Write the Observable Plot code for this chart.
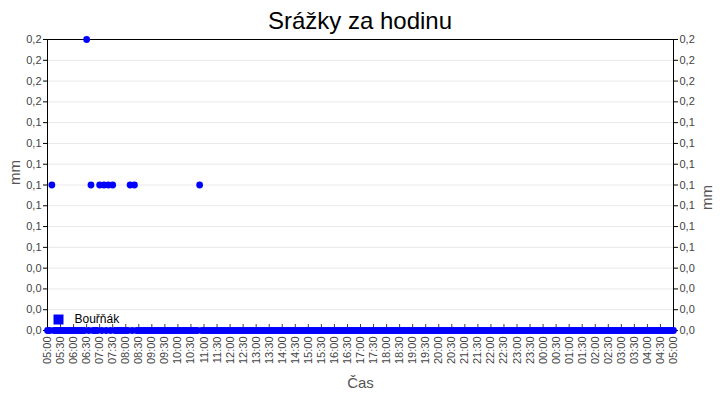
<!DOCTYPE html>
<html>
<head>
<meta charset="utf-8">
<script src="https://cdn.jsdelivr.net/npm/d3@7"></script>
<script src="https://cdn.jsdelivr.net/npm/@observablehq/plot@0.6"></script>
<style>
  body { margin: 0; background: #fff; font-family: "Liberation Sans", Arial, sans-serif; }
  #title { height: 31px; padding-top: 6px; line-height: 30px; font-size: 24px; text-align: center; color: #000; }
  svg { overflow: visible; }
</style>
</head>
<body>
<div id="title">Srážky za hodinu</div>
<div id="chart"></div>
<script>
// Series: "Bouřňák", one reading every 5 minutes, 05:00 → 05:00 next day (mm)
const seriesName = "Bouřňák";
const startTime = "05:00";
const stepMinutes = 5;
const values = [
  0, 0, 0.1, 0, 0, 0, 0, 0, 0, 0, 0, 0, 0, 0, 0, 0, 0, 0, 0.2, 0, 0.1, 0, 0, 0,       // 05:00–06:55
  0.1, 0, 0.1, 0, 0.1, 0, 0.1, 0, 0, 0, 0, 0, 0, 0, 0.1, 0, 0.1, 0, 0, 0, 0, 0, 0, 0, // 07:00–08:55
  0, 0, 0, 0, 0, 0, 0, 0, 0, 0, 0, 0, 0, 0, 0, 0, 0, 0, 0, 0, 0, 0, 0.1, 0,           // 09:00–10:55
  0, 0, 0, 0, 0, 0, 0, 0, 0, 0, 0, 0, 0, 0, 0, 0, 0, 0, 0, 0, 0, 0, 0, 0,             // 11:00–12:55
  0, 0, 0, 0, 0, 0, 0, 0, 0, 0, 0, 0, 0, 0, 0, 0, 0, 0, 0, 0, 0, 0, 0, 0,             // 13:00–14:55
  0, 0, 0, 0, 0, 0, 0, 0, 0, 0, 0, 0, 0, 0, 0, 0, 0, 0, 0, 0, 0, 0, 0, 0,             // 15:00–16:55
  0, 0, 0, 0, 0, 0, 0, 0, 0, 0, 0, 0, 0, 0, 0, 0, 0, 0, 0, 0, 0, 0, 0, 0,             // 17:00–18:55
  0, 0, 0, 0, 0, 0, 0, 0, 0, 0, 0, 0, 0, 0, 0, 0, 0, 0, 0, 0, 0, 0, 0, 0,             // 19:00–20:55
  0, 0, 0, 0, 0, 0, 0, 0, 0, 0, 0, 0, 0, 0, 0, 0, 0, 0, 0, 0, 0, 0, 0, 0,             // 21:00–22:55
  0, 0, 0, 0, 0, 0, 0, 0, 0, 0, 0, 0, 0, 0, 0, 0, 0, 0, 0, 0, 0, 0, 0, 0,             // 23:00–00:55
  0, 0, 0, 0, 0, 0, 0, 0, 0, 0, 0, 0, 0, 0, 0, 0, 0, 0, 0, 0, 0, 0, 0, 0,             // 01:00–02:55
  0, 0, 0, 0, 0, 0, 0, 0, 0, 0, 0, 0, 0, 0, 0, 0, 0, 0, 0, 0, 0, 0, 0, 0,             // 03:00–04:55
  0                                                                                    // 05:00
];
const yMax = 0.2;
const yTickCount = 14;          // 15 tick lines from 0 to 0.2
const xTickMinutes = 30;
const xTitle = "Čas";
const yTitle = "mm";

const [h0, m0] = startTime.split(":").map(Number);
const t0 = new Date(Date.UTC(2024, 0, 1, h0, m0));
const data = values.map((v, i) => ({ t: new Date(+t0 + i * stepMinutes * 60000), v }));
const tEnd = data[data.length - 1].t;
const xTicks = d3.utcMinute.every(xTickMinutes).range(t0, new Date(+tEnd + 1));
const yTicks = d3.range(yTickCount + 1).map(i => yMax * i / yTickCount);
const fmtY = d => d.toFixed(1).replace(".", ",");
const fmtX = d3.utcFormat("%H:%M");

const chart = Plot.plot({
  width: 720,
  height: 363,
  marginTop: 2,
  marginBottom: 70,
  marginLeft: 47,
  marginRight: 47,
  style: { fontFamily: "Liberation Sans, Arial, sans-serif", fontSize: "11px", color: "#444", background: "#fff" },
  x: { type: "utc", domain: [t0, tEnd] },
  y: { domain: [0, yMax] },
  marks: [
    Plot.gridY(yTicks, { stroke: "#e8e8e8", strokeOpacity: 1 }),
    Plot.axisY(yTicks, { anchor: "left", tickFormat: fmtY, tickSize: 4, tickPadding: 2, label: null, stroke: "#000", fill: "#444", fontSize: 11 }),
    Plot.axisY(yTicks, { anchor: "right", tickFormat: fmtY, tickSize: 4, tickPadding: 2, label: null, stroke: "#000", fill: "#444", fontSize: 11 }),
    Plot.axisX(xTicks, { anchor: "bottom", tickFormat: fmtX, tickRotate: -90, tickSize: 0, tickPadding: 6, label: null, fill: "#444", fontSize: 11 }),
    Plot.ruleX(xTicks, { y1: 0, y2: 0, insetTop: -6, stroke: "#444" }),
    Plot.frame({ stroke: "#000" }),
    Plot.dot(data, { x: "t", y: "v", r: 3.4, fill: "#0000ff", stroke: null }),
    Plot.dot([seriesName], { frameAnchor: "bottom-left", dx: 11, dy: -11, symbol: "square", r: 5.64, fill: "#0000ff" }),
    Plot.text([seriesName], { frameAnchor: "bottom-left", dx: 27, dy: -11, lineAnchor: "middle", text: d => d, textAnchor: "start", fontSize: 12, fill: "#000" }),
    Plot.text([xTitle], { frameAnchor: "bottom", dy: 53, lineAnchor: "middle", text: d => d, fontSize: 15, fill: "#555" }),
    Plot.text([yTitle], { frameAnchor: "left", dx: -32, rotate: -90, lineAnchor: "middle", text: d => d, fontSize: 15, fill: "#555" }),
    Plot.text([yTitle], { frameAnchor: "right", dx: 34, rotate: -90, lineAnchor: "middle", text: d => d, fontSize: 15, fill: "#555" })
  ]
});
document.getElementById("chart").appendChild(chart);
</script>
</body>
</html>
